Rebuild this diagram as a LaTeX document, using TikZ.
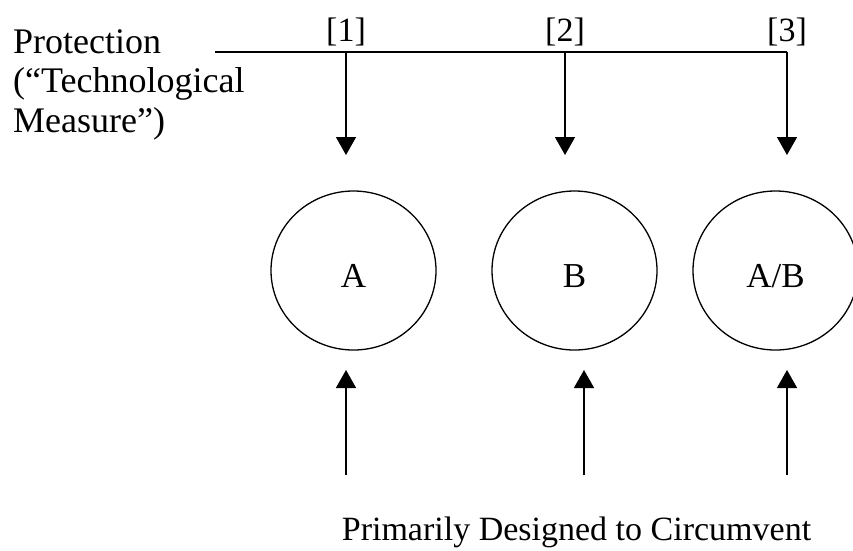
\documentclass[tikz,border=0pt]{standalone}
\usepackage{fontspec}
\setmainfont{Liberation Serif}
\usetikzlibrary{arrows.meta,shapes.geometric}
\begin{document}
\begin{tikzpicture}[x=1pt,y=-1pt,
  conn/.style={line width=1.5pt,-{Triangle[width=20pt,length=18pt]}},
  wire/.style={line width=1.5pt},
  circ/.style={draw,line width=1.3pt,ellipse,minimum width=165pt,minimum height=159pt,inner sep=0pt,text height=34pt,text depth=0pt,font=\fontsize{35}{40}\selectfont},
  tag/.style={anchor=base,inner sep=0pt,font=\fontsize{34}{38}\selectfont},
  lbl/.style={inner sep=0pt,font=\fontsize{36}{39.5}\selectfont}]
\useasboundingbox (0,0) rectangle (853,550);
% left label
\node[lbl,anchor=base west,align=left] (prot) at (13,132) {Protection\\(“Technological\\Measure”)};
% top bus
\coordinate (start) at (215,52);
\coordinate (j1) at (346,52);
\coordinate (j2) at (565,52);
\coordinate (j3) at (787,52);
\draw[wire] (start) -- (j3);
\node[tag] (t1) at (346,41) {[1]};
\node[tag] (t2) at (565,41) {[2]};
\node[tag] (t3) at (787,41) {[3]};
\coordinate (d1) at (346,155);
\coordinate (d2) at (565,155);
\coordinate (d3) at (787,155);
\draw[conn] (j1) -- (d1);
\draw[conn] (j2) -- (d2);
\draw[conn] (j3) -- (d3);
% circles
\node[circ] (A) at (353.5,270.5) {A};
\node[circ] (B) at (574.5,270.5) {B};
\node[circ] (AB) at (775.5,270.5) {A/B};
% bottom arrows
\coordinate (b1) at (346,475);
\coordinate (b2) at (584,475);
\coordinate (b3) at (787,475);
\coordinate (u1) at (346,370);
\coordinate (u2) at (584,370);
\coordinate (u3) at (787,370);
\draw[conn] (b1) -- (u1);
\draw[conn] (b2) -- (u2);
\draw[conn] (b3) -- (u3);
\node[lbl,anchor=base,font=\fontsize{34}{40}\selectfont] (circ) at (576.5,540) {Primarily Designed to Circumvent};
\end{tikzpicture}
\end{document}
